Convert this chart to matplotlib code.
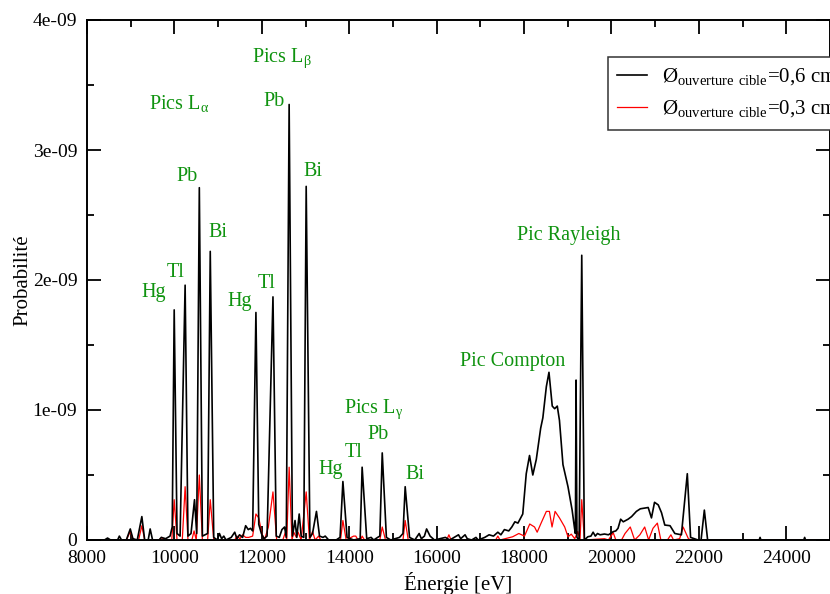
import matplotlib
matplotlib.use("Agg")
import matplotlib.pyplot as plt
from matplotlib.ticker import MultipleLocator

plt.rcParams['font.family'] = ['Liberation Serif', 'DejaVu Serif']
plt.rcParams['mathtext.fontset'] = 'custom'
plt.rcParams['mathtext.rm'] = 'Liberation Serif'

# spectre, ouverture 0,6 cm  (énergie en eV, probabilité en 1e-09)
e_06 = [8000, 8400, 8470, 8540, 8700, 8740, 8790, 8900, 8990, 9050, 9150, 9255, 9320, 9400,
        9445, 9500, 9650, 9700, 9800, 9900, 9950, 9995, 10060, 10130, 10245, 10310, 10380,
        10460, 10510, 10570, 10640, 10760, 10820, 10900, 10980, 11030, 11080, 11130, 11180,
        11300, 11380, 11430, 11490, 11560, 11630, 11690, 11740, 11790, 11865, 11930, 11990,
        12050, 12120, 12255, 12330, 12400, 12460, 12520, 12560, 12625, 12700, 12760, 12800,
        12855, 12900, 12960, 13015, 13100, 13160, 13250, 13320, 13400, 13450, 13530, 13700,
        13790, 13855, 13950, 14100, 14250, 14295, 14400, 14500, 14560, 14650, 14700, 14755,
        14850, 14950, 15150, 15230, 15280, 15380, 15500, 15600, 15650, 15720, 15770, 15850,
        15950, 16200, 16300, 16400, 16500, 16550, 16650, 16700, 16800, 16900, 16950, 17100,
        17200, 17300, 17400, 17470, 17550, 17650, 17720, 17790, 17860, 17970, 18050, 18125,
        18200, 18280, 18380, 18430, 18510, 18570, 18645, 18700, 18760, 18810, 18890, 19005,
        19100, 19155, 19175, 19190, 19210, 19260, 19320, 19380, 19460, 19530, 19580, 19630,
        19680, 19740, 19840, 19930, 20040, 20100, 20150, 20210, 20270, 20380, 20460, 20570,
        20660, 20730, 20840, 20915, 20985, 21070, 21145, 21220, 21340, 21450, 21600, 21735,
        21810, 21980, 22050, 22125, 22200, 23380, 23400, 23420, 24400, 24420, 24440, 25000]
p_06 = [0, 0, 0.015, 0, 0, 0.03, 0, 0, 0.085, 0.01, 0, 0.18, 0, 0,
        0.085, 0, 0, 0.02, 0.01, 0.03, 0.1, 1.77, 0.05, 0.03, 1.96, 0.03, 0.05,
        0.31, 0.05, 2.71, 0.03, 0.05, 2.22, 0.02, 0, 0.05, 0.01, 0.03, 0,
        0.02, 0.06, 0.01, 0.04, 0.02, 0.11, 0.08, 0.09, 0.07, 1.75, 0.12, 0.05,
        0.01, 0.03, 1.87, 0.03, 0.02, 0.08, 0.1, 0.02, 3.35, 0.03, 0.15, 0.02,
        0.2, 0.03, 0.02, 2.72, 0.02, 0.05, 0.22, 0.03, 0.02, 0.03, 0, 0,
        0.02, 0.45, 0.02, 0, 0.01, 0.56, 0.01, 0.02, 0, 0.02, 0.03, 0.67,
        0.02, 0, 0.02, 0.05, 0.41, 0.02, 0, 0.05, 0.01, 0.03, 0.085, 0.03,
        0, 0.02, 0, 0.02, 0.04, 0.01, 0.04, 0.01, 0, 0.02, 0, 0.02,
        0.04, 0.03, 0.06, 0.04, 0.08, 0.07, 0.1, 0.14, 0.13, 0.2, 0.51, 0.65,
        0.5, 0.62, 0.86, 0.94, 1.18, 1.29, 1.03, 1.01, 1.03, 0.92, 0.58, 0.41,
        0.23, 0.09, 0.05, 1.23, 0.02, 0, 2.19, 0, 0.025, 0.03, 0.06, 0.03,
        0.05, 0.04, 0.046, 0.04, 0.064, 0.07, 0.09, 0.16, 0.14, 0.16, 0.18, 0.22,
        0.24, 0.244, 0.25, 0.17, 0.29, 0.27, 0.21, 0.115, 0.11, 0.05, 0.04, 0.51,
        0.02, 0, 0, 0.23, 0, 0, 0.02, 0, 0, 0.02, 0, 0]

# spectre, ouverture 0,3 cm
e_03 = [8000, 8900, 8990, 9060, 9180, 9255, 9320, 9650, 9710, 9780, 9940, 9995, 10060,
        10180, 10245, 10310, 10400, 10450, 10500, 10570, 10640, 10760, 10820, 10900, 11380,
        11430, 11500, 11560, 11630, 11700, 11790, 11865, 11930, 12000, 12060, 12150, 12255,
        12340, 12480, 12540, 12570, 12625, 12690, 12730, 12790, 12830, 12900, 13015, 13090,
        13160, 13220, 13300, 13350, 13800, 13855, 13930, 14100, 14150, 14200, 14260, 14295,
        14350, 14700, 14755, 14830, 15230, 15280, 15350, 16230, 16280, 16330, 17350, 17400,
        17450, 17740, 17880, 18010, 18130, 18240, 18300, 18390, 18510, 18580, 18640, 18710,
        18810, 18930, 19005, 19080, 19160, 19230, 19280, 19320, 19380, 19840, 19930, 20040,
        20100, 20230, 20310, 20430, 20530, 20650, 20760, 20850, 20950, 21050, 21130, 21280,
        21360, 21420, 21560, 21640, 21760, 21830, 25000]
p_03 = [0, 0, 0.065, 0, 0, 0.11, 0, 0, 0.02, 0, 0, 0.31, 0,
        0, 0.41, 0, 0, 0.07, 0, 0.5, 0, 0, 0.31, 0, 0,
        0.03, 0.01, 0.04, 0.02, 0.02, 0.03, 0.2, 0.17, 0.05, 0, 0.1, 0.37,
        0, 0, 0.06, 0, 0.56, 0, 0.06, 0.02, 0.06, 0, 0.37, 0,
        0.065, 0, 0.03, 0, 0, 0.15, 0, 0.03, 0.03, 0, 0, 0.03,
        0, 0, 0.1, 0, 0, 0.15, 0, 0, 0.04, 0, 0, 0.03,
        0, 0.025, 0.05, 0.03, 0.123, 0.1, 0.06, 0.13, 0.22, 0.22, 0.1, 0.22,
        0.17, 0.1, 0.025, 0.045, 0.01, 0.065, 0, 0.31, 0, 0.01, 0, 0.056,
        0, 0, 0.05, 0.1, 0, 0.04, 0.1, 0, 0.09, 0.13, 0, 0,
        0.04, 0, 0.01, 0.1, 0.01, 0, 0]

# annotations (texte, énergie, probabilité de la ligne de base)
labels = ['Pics L$_{\\mathregular{α}}$', 'Hg', 'Tl', 'Pb', 'Bi',
          'Pics L$_{\\mathregular{β}}$', 'Hg', 'Tl', 'Pb', 'Bi',
          'Pics L$_{\\mathregular{γ}}$', 'Hg', 'Tl', 'Pb', 'Bi',
          'Pic Compton', 'Pic Rayleigh']
label_e = [10105, 9526, 10025, 10300, 10997,
           12462, 11501, 12118, 12272, 13160,
           14560, 13571, 14109, 14670, 15505,
           17747, 19028]
label_p = [3.31, 1.87, 2.02, 2.765, 2.33,
           3.68, 1.80, 1.94, 3.34, 2.80,
           0.98, 0.51, 0.64, 0.775, 0.47,
           1.335, 2.31]

leg_06 = 'Ø$_{\\mathregular{ouverture\\ cible}}$=0,6 cm'
leg_03 = 'Ø$_{\\mathregular{ouverture\\ cible}}$=0,3 cm'

fig = plt.figure(figsize=(8.3, 5.94), dpi=100)
ax = fig.add_axes([87 / 830, 54 / 594, 743 / 830, 520 / 594])

scale = 1e-9
ax.plot(e_06, [p * scale for p in p_06], color='black', lw=1.2, label=leg_06, zorder=3)
ax.plot(e_03, [p * scale for p in p_03], color='red', lw=0.9, label=leg_03, zorder=2)

green = '#0f930f'
for t, e, p in zip(labels, label_e, label_p):
    ax.text(e, p * scale, t, color=green, fontsize=14.5, ha='center', va='baseline')

ax.set_xlim(8000, 25000)
ax.set_ylim(0, 4e-9)
ax.xaxis.set_major_locator(MultipleLocator(2000))
ax.xaxis.set_minor_locator(MultipleLocator(1000))
ax.set_yticks([0, 1e-9, 2e-9, 3e-9, 4e-9])
ax.set_yticklabels(['0', '1e-09', '2e-09', '3e-09', '4e-09'])
ax.yaxis.set_minor_locator(MultipleLocator(5e-10))
ax.tick_params(which='both', direction='in', top=True, right=True, width=1.3,
               labelsize=14)
ax.tick_params(which='major', length=10, pad=7)
ax.tick_params(which='minor', length=5)
for s in ax.spines.values():
    s.set_linewidth(1.4)

ax.set_xlabel('Énergie [eV]', fontsize=15, labelpad=4)
ax.set_ylabel('Probabilité', fontsize=15, labelpad=0)

# légende coupée au bord droit, comme dans l'original
handles, names = ax.get_legend_handles_labels()
leg = ax.legend(handles, names, loc='upper left',
                bbox_to_anchor=(608 / 830, 1 - 57 / 594),
                bbox_transform=fig.transFigure, fontsize=15, frameon=True,
                fancybox=False, edgecolor='#333333', framealpha=1,
                handlelength=1.4, handletextpad=0.72, borderpad=0.45,
                labelspacing=0.55, borderaxespad=0)
leg.get_frame().set_linewidth(1.1)
leg.set_zorder(5)

fig.savefig('out.png', dpi=100)
